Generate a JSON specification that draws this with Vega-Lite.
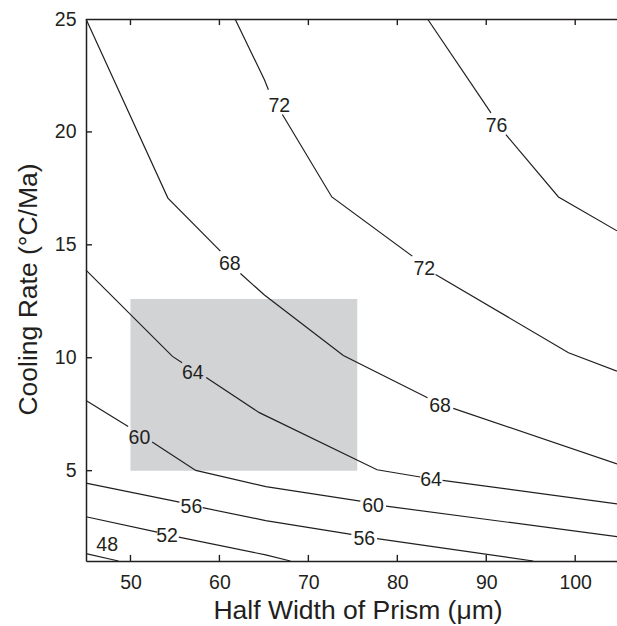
{
  "$schema": "https://vega.github.io/schema/vega-lite/v6.json",
  "width": 531,
  "height": 542,
  "autosize": {"type": "none"},
  "padding": {"left": 86, "top": 19, "right": 0, "bottom": 65},
  "background": "white",
  "config": {
    "view": {"stroke": null},
    "font": "Liberation Sans",
    "axis": {
      "domainColor": "#231f20",
      "domainWidth": 1.5,
      "ticks": false,
      "labelFont": "Liberation Sans",
      "labelFontSize": 19.5,
      "labelColor": "#231f20",
      "titleFont": "Liberation Sans",
      "titleFontSize": 26.5,
      "titleColor": "#231f20",
      "titleFontWeight": "normal",
      "grid": false,
      "labelOverlap": false,
      "labelFlush": false
    }
  },
  "datasets": {
    "box": [{"x": 50, "x2": 75.5, "y": 5, "y2": 12.6}],
    "xticks": [{"v": 50}, {"v": 60}, {"v": 70}, {"v": 80}, {"v": 90}, {"v": 100}],
    "yticks": [{"v": 5}, {"v": 10}, {"v": 15}, {"v": 20}],
    "contours": [
      {"seg": "48", "x": 45, "y": 1.33}, {"seg": "48", "x": 48.65, "y": 1.0},
      {"seg": "52a", "x": 45, "y": 2.96}, {"seg": "52a", "x": 53.0, "y": 2.28},
      {"seg": "52b", "x": 55.43, "y": 2.06}, {"seg": "52b", "x": 65.2, "y": 1.27}, {"seg": "52b", "x": 67.98, "y": 1.0},
      {"seg": "56a", "x": 45, "y": 4.45}, {"seg": "56a", "x": 55.51, "y": 3.61},
      {"seg": "56b", "x": 58.12, "y": 3.36}, {"seg": "56b", "x": 65.2, "y": 2.79}, {"seg": "56b", "x": 74.83, "y": 2.18},
      {"seg": "56c", "x": 77.72, "y": 1.99}, {"seg": "56c", "x": 95.28, "y": 1.0},
      {"seg": "60a", "x": 45, "y": 8.11}, {"seg": "60a", "x": 49.74, "y": 6.96},
      {"seg": "60b", "x": 52.44, "y": 6.27}, {"seg": "60b", "x": 57.34, "y": 5.01}, {"seg": "60b", "x": 65.22, "y": 4.29}, {"seg": "60b", "x": 75.84, "y": 3.65},
      {"seg": "60c", "x": 78.73, "y": 3.43}, {"seg": "60c", "x": 104.7, "y": 2.08},
      {"seg": "64a", "x": 45, "y": 13.88}, {"seg": "64a", "x": 54.72, "y": 10.06}, {"seg": "64a", "x": 55.81, "y": 9.78},
      {"seg": "64b", "x": 58.51, "y": 9.12}, {"seg": "64b", "x": 64.49, "y": 7.57}, {"seg": "64b", "x": 77.72, "y": 5.04}, {"seg": "64b", "x": 82.58, "y": 4.72},
      {"seg": "64c", "x": 85.09, "y": 4.57}, {"seg": "64c", "x": 104.7, "y": 3.53},
      {"seg": "68a", "x": 45, "y": 25}, {"seg": "68a", "x": 54.21, "y": 17.07}, {"seg": "68a", "x": 60.11, "y": 14.72},
      {"seg": "68b", "x": 62.36, "y": 13.73}, {"seg": "68b", "x": 65.06, "y": 12.78}, {"seg": "68b", "x": 73.93, "y": 10.1}, {"seg": "68b", "x": 83.4, "y": 8.23},
      {"seg": "68c", "x": 86.29, "y": 7.76}, {"seg": "68c", "x": 104.7, "y": 5.3},
      {"seg": "72a", "x": 61.76, "y": 25}, {"seg": "72a", "x": 65.06, "y": 22.31}, {"seg": "72a", "x": 65.51, "y": 21.87},
      {"seg": "72b", "x": 67.08, "y": 20.77}, {"seg": "72b", "x": 72.64, "y": 17.12}, {"seg": "72b", "x": 81.69, "y": 14.5},
      {"seg": "72c", "x": 84.3, "y": 13.69}, {"seg": "72c", "x": 99.25, "y": 10.22}, {"seg": "72c", "x": 104.7, "y": 9.41},
      {"seg": "76a", "x": 83.4, "y": 25}, {"seg": "76a", "x": 90.53, "y": 20.84},
      {"seg": "76b", "x": 92.21, "y": 19.88}, {"seg": "76b", "x": 98.12, "y": 17.12}, {"seg": "76b", "x": 104.7, "y": 15.62}
    ],
    "labels": [
      {"label": "48", "x": 47.38, "y": 1.74},
      {"label": "52", "x": 54.12, "y": 2.17},
      {"label": "56", "x": 56.85, "y": 3.43},
      {"label": "56", "x": 76.29, "y": 2.02},
      {"label": "60", "x": 51.01, "y": 6.49},
      {"label": "60", "x": 77.27, "y": 3.5},
      {"label": "64", "x": 57.0, "y": 9.36},
      {"label": "64", "x": 83.79, "y": 4.62},
      {"label": "68", "x": 61.16, "y": 14.2},
      {"label": "68", "x": 84.8, "y": 7.89},
      {"label": "72", "x": 66.74, "y": 21.21},
      {"label": "72", "x": 83.03, "y": 13.98},
      {"label": "76", "x": 91.16, "y": 20.31}
    ]
  },
  "layer": [
    {
      "data": {"name": "box"},
      "mark": {"type": "rect", "color": "#d1d3d4"},
      "encoding": {
        "x": {
          "field": "x", "type": "quantitative",
          "scale": {"domain": [45, 104.7], "nice": false, "zero": false},
          "axis": {
            "orient": "bottom",
            "values": [50, 60, 70, 80, 90, 100],
            "labelPadding": 12,
            "title": "Half Width of Prism (μm)",
            "titleX": 271.5,
            "titleY": 57.5,
            "titleAlign": "center",
            "titleAnchor": null,
            "titleBaseline": "alphabetic"
          }
        },
        "x2": {"field": "x2"},
        "y": {
          "field": "y", "type": "quantitative",
          "scale": {"domain": [1, 25], "nice": false, "zero": false},
          "axis": {
            "orient": "left",
            "values": [5, 10, 15, 20, 25],
            "labelPadding": 10,
            "title": "Cooling Rate (°C/Ma)",
            "titleX": -50,
            "titleY": 270,
            "titleAngle": 270,
            "titleAlign": "center",
            "titleBaseline": "alphabetic"
          }
        },
        "y2": {"field": "y2"}
      }
    },
    {
      "data": {"name": "xticks"},
      "mark": {"type": "rule", "color": "#231f20", "strokeWidth": 1.4},
      "encoding": {
        "x": {"field": "v", "type": "quantitative", "axis": {"orient": "top", "values": [50, 60, 70, 80, 90, 100], "labels": false, "title": null}},
        "y": {"datum": 1, "type": "quantitative", "axis": null},
        "y2": {"datum": 1.27}
      }
    },
    {
      "data": {"name": "xticks"},
      "mark": {"type": "rule", "color": "#231f20", "strokeWidth": 1.4},
      "encoding": {
        "x": {"field": "v", "type": "quantitative", "axis": null},
        "y": {"datum": 25, "type": "quantitative", "axis": null},
        "y2": {"datum": 24.73}
      }
    },
    {
      "data": {"name": "yticks"},
      "mark": {"type": "rule", "color": "#231f20", "strokeWidth": 1.4},
      "encoding": {
        "y": {"field": "v", "type": "quantitative", "axis": null},
        "x": {"datum": 45, "type": "quantitative", "axis": null},
        "x2": {"datum": 45.68}
      }
    },
    {
      "data": {"name": "contours"},
      "mark": {"type": "line", "color": "#231f20", "strokeWidth": 1.2},
      "encoding": {
        "x": {"field": "x", "type": "quantitative", "axis": null},
        "y": {"field": "y", "type": "quantitative", "axis": null},
        "detail": {"field": "seg"},
        "order": {"field": "x", "type": "quantitative"}
      }
    },
    {
      "data": {"name": "labels"},
      "mark": {"type": "text", "font": "Liberation Sans", "fontSize": 19.5, "color": "#231f20", "align": "center", "baseline": "middle", "dy": 1},
      "encoding": {
        "x": {"field": "x", "type": "quantitative", "axis": null},
        "y": {"field": "y", "type": "quantitative", "axis": null},
        "text": {"field": "label"}
      }
    }
  ],
  "resolve": {"axis": {"x": "independent", "y": "independent"}}
}
